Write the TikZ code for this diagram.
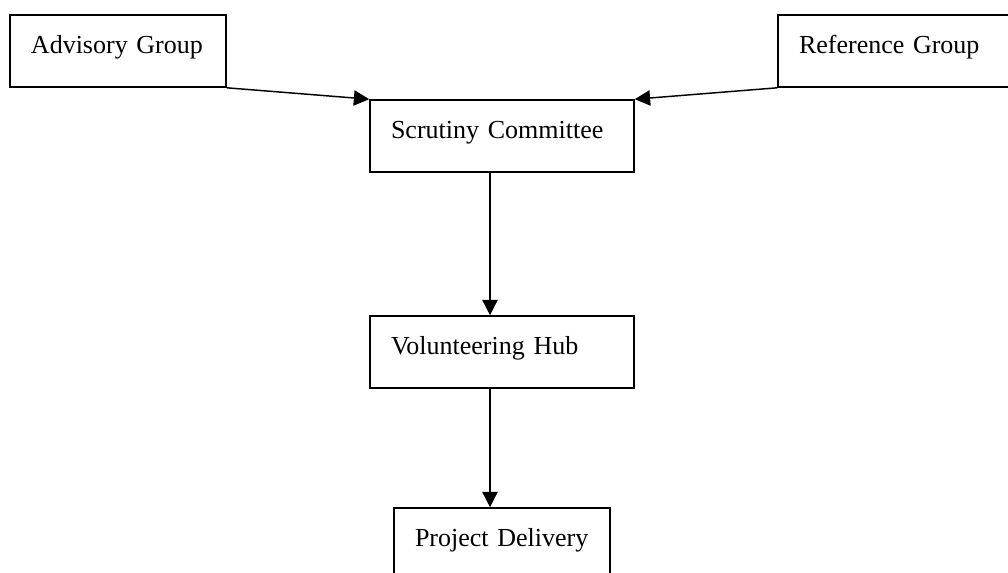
\documentclass[tikz,border=0pt]{standalone}
\usepackage{fontspec}
\setmainfont{Liberation Serif}
\usetikzlibrary{arrows.meta,positioning}

\begin{document}
\begin{tikzpicture}[x=0.75pt, y=-0.75pt, font=\fontsize{19.5}{23}\selectfont]
\tikzset{
  box/.style={rectangle, draw=black, line width=1.2pt, inner xsep=15.75pt, inner ysep=0pt,
    text height=28.5pt, text depth=25.5pt, align=left},
  arr/.style={-{Triangle[length=11.5pt, width=11.5pt]}, line width=1.1pt},
}
\useasboundingbox (0,0) rectangle (1008,572);
\node[box, text width=130.5pt] (adv) at (118,51) {Advisory Group};
\node[box, text width=142.5pt] (ref) at (894,51) {Reference Group};
\node[box, text width=166.5pt] (scr) at (502,136) {Scrutiny Committee};
\node[box, text width=166.5pt] (vol) at (502,352) {Volunteering Hub};
\node[box, text width=130.5pt] (proj) at (502,544) {Project Delivery};
\draw[arr] (adv.south east) -- (scr.north west);
\draw[arr] (ref.south west) -- (scr.north east);
\draw[arr] ([xshift=-9pt]scr.south) -- ([xshift=-9pt]vol.north);
\draw[arr] ([xshift=-9pt]vol.south) -- ([xshift=-9pt]proj.north);
\end{tikzpicture}
\end{document}
